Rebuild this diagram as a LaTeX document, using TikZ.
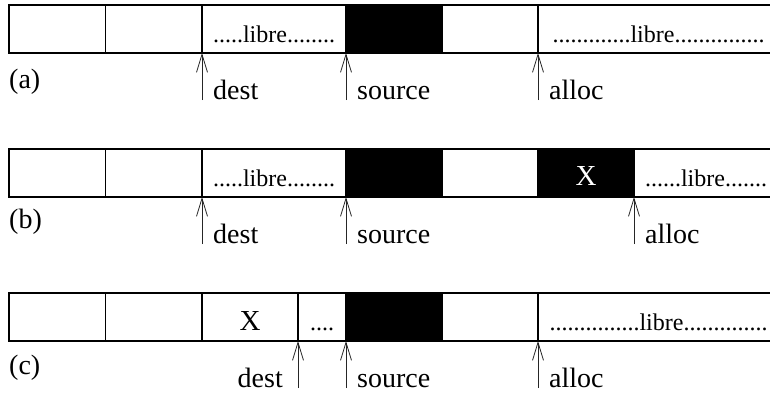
\documentclass[tikz,border=0pt]{standalone}
\usepackage{fontspec}
\setmainfont{Liberation Serif}
\usetikzlibrary{arrows.meta,calc}
\begin{document}
\begin{tikzpicture}[x=1pt,y=-1pt,
  cell/.style={draw, line width=1.1pt, anchor=north west, minimum height=48pt,
               inner sep=0pt, outer sep=0pt},
  used/.style={cell, fill=black, text=white},
  small/.style={font=\fontsize{24}{24}\selectfont, inner sep=0pt},
  xsign/.style={font=\fontsize{29}{29}\selectfont, inner sep=0pt},
  lbl/.style={font=\fontsize{28}{28}\selectfont, inner sep=0pt},
  ptr/.style={line width=0.8pt, black!85, -{Straight Barb[length=18pt,width=11pt]}},
  edge/.style={line width=1.1pt}]
\useasboundingbox (0,0) rectangle (770,396);

% ---------- (a) ----------
\node[cell, minimum width=96.5pt] (a1) at (9,5) {};
\node[cell, minimum width=96.5pt] (a2) at (105.5,5) {};
\node[cell, minimum width=144pt] (a3) at (202,5) {};
\node[used, minimum width=96.5pt] (a4) at (346,5) {};
\node[cell, minimum width=95.5pt] (a5) at (442.5,5) {};
\coordinate (a6) at (770,5);
\draw[edge] (a5.north east) -- (a6) (a5.south east) -- (a6 |- a5.south east);
\node[small, anchor=base] (af1) at (274,42) {.....libre........};
\node[small, anchor=base] (af2) at (658.5,42) {.............libre...............};
\node[lbl, anchor=base west] (alab) at (9,88) {(a)};
\coordinate (ad) at ($(a3.south west)+(0,47)$);
\coordinate (as) at ($(a4.south west)+(0,47)$);
\coordinate (aa) at ($(a5.south east)+(0,47)$);
\draw[ptr] (ad) -- (a3.south west);
\draw[ptr] (as) -- (a4.south west);
\draw[ptr] (aa) -- (a5.south east);
\node[lbl, anchor=base west] (adl) at ($(ad)+(11,-1)$) {dest};
\node[lbl, anchor=base west] (asl) at ($(as)+(11,-1)$) {source};
\node[lbl, anchor=base west] (aal) at ($(aa)+(11,-1)$) {alloc};

% ---------- (b) ----------
\node[cell, minimum width=96.5pt] (b1) at (9,149) {};
\node[cell, minimum width=96.5pt] (b2) at (105.5,149) {};
\node[cell, minimum width=144pt] (b3) at (202,149) {};
\node[used, minimum width=96.5pt] (b4) at (346,149) {};
\node[cell, minimum width=95.5pt] (b5) at (442.5,149) {};
\node[used, minimum width=96pt] (b6) at (538,149) {};
\node[xsign, text=white, anchor=base] (bx) at (586,185) {X};
\coordinate (b7) at (770,149);
\draw[edge] (b6.north east) -- (b7) (b6.south east) -- (b7 |- b6.south east);
\node[small, anchor=base] (bf1) at (274,186) {.....libre........};
\node[small, anchor=base] (bf2) at (706,186) {......libre.......};
\node[lbl, anchor=base west] (blab) at (9,228) {(b)};
\coordinate (bd) at ($(b3.south west)+(0,47)$);
\coordinate (bs) at ($(b4.south west)+(0,47)$);
\coordinate (ba) at ($(b6.south east)+(0,47)$);
\draw[ptr] (bd) -- (b3.south west);
\draw[ptr] (bs) -- (b4.south west);
\draw[ptr] (ba) -- (b6.south east);
\node[lbl, anchor=base west] (bdl) at ($(bd)+(11,-1)$) {dest};
\node[lbl, anchor=base west] (bsl) at ($(bs)+(11,-1)$) {source};
\node[lbl, anchor=base west] (bal) at ($(ba)+(11,-1)$) {alloc};

% ---------- (c) ----------
\node[cell, minimum width=96.5pt] (c1) at (9,293) {};
\node[cell, minimum width=96.5pt] (c2) at (105.5,293) {};
\node[cell, minimum width=96pt] (c3) at (202,293) {};
\node[xsign, anchor=base] (cx) at (250,330) {X};
\node[cell, minimum width=48pt] (c4) at (298,293) {};
\node[used, minimum width=96.5pt] (c5) at (346,293) {};
\node[cell, minimum width=95.5pt] (c6) at (442.5,293) {};
\coordinate (c7) at (770,293);
\draw[edge] (c6.north east) -- (c7) (c6.south east) -- (c7 |- c6.south east);
\node[small, anchor=base] (cf1) at (322,330) {....};
\node[small, anchor=base] (cf2) at (658.5,330) {...............libre..............};
\node[lbl, anchor=base west] (clab) at (9,374) {(c)};
\coordinate (cd) at ($(c4.south west)+(0,47)$);
\coordinate (cs) at ($(c5.south west)+(0,47)$);
\coordinate (ca) at ($(c6.south east)+(0,47)$);
\draw[ptr] (cd) -- (c4.south west);
\draw[ptr] (cs) -- (c5.south west);
\draw[ptr] (ca) -- (c6.south east);
\node[lbl, anchor=base east] (cdl) at ($(cd)+(-15,-1)$) {dest};
\node[lbl, anchor=base west] (csl) at ($(cs)+(11,-1)$) {source};
\node[lbl, anchor=base west] (cal) at ($(ca)+(11,-1)$) {alloc};
\end{tikzpicture}
\end{document}
